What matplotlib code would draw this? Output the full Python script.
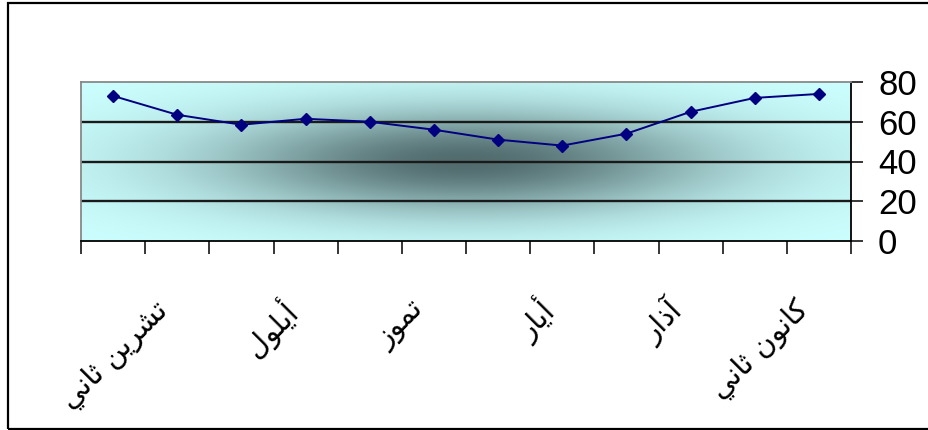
import numpy as np
import matplotlib
matplotlib.use('Agg')
import matplotlib.pyplot as plt
import matplotlib.transforms as mtransforms
from matplotlib.patches import Rectangle

# months in calendar order (Levantine names); the chart runs right-to-left
months = ['كانون ثاني', 'شباط', 'آذار', 'نيسان', 'أيار', 'حزيران',
          'تموز', 'آب', 'أيلول', 'تشرين أول', 'تشرين ثاني', 'كانون أول']
values = [74, 72, 65, 54, 48, 51, 56, 60, 61.5, 58.5, 63.5, 73]
y_ticks = [0, 20, 40, 60, 80]

# presentation forms: (isolated, final, initial, medial); 2-tuples don't join forward
FORMS = {
    'ا': ('\uFE8D', '\uFE8E'), 'آ': ('\uFE81', '\uFE82'), 'أ': ('\uFE83', '\uFE84'),
    'ب': ('\uFE8F', '\uFE90', '\uFE91', '\uFE92'), 'ت': ('\uFE95', '\uFE96', '\uFE97', '\uFE98'),
    'ث': ('\uFE99', '\uFE9A', '\uFE9B', '\uFE9C'), 'ح': ('\uFEA1', '\uFEA2', '\uFEA3', '\uFEA4'),
    'ذ': ('\uFEAB', '\uFEAC'), 'ر': ('\uFEAD', '\uFEAE'), 'ز': ('\uFEAF', '\uFEB0'),
    'س': ('\uFEB1', '\uFEB2', '\uFEB3', '\uFEB4'), 'ش': ('\uFEB5', '\uFEB6', '\uFEB7', '\uFEB8'),
    'ط': ('\uFEC1', '\uFEC2', '\uFEC3', '\uFEC4'), 'ك': ('\uFED9', '\uFEDA', '\uFEDB', '\uFEDC'),
    'ل': ('\uFEDD', '\uFEDE', '\uFEDF', '\uFEE0'), 'م': ('\uFEE1', '\uFEE2', '\uFEE3', '\uFEE4'),
    'ن': ('\uFEE5', '\uFEE6', '\uFEE7', '\uFEE8'), 'و': ('\uFEED', '\uFEEE'),
    'ي': ('\uFEF1', '\uFEF2', '\uFEF3', '\uFEF4'),
}


def shape(word):
    # matplotlib has no arabic shaping/bidi, so do it by hand
    out = []
    for i, c in enumerate(word):
        if c not in FORMS:
            out.append(c)
            continue
        prev = word[i - 1] if i > 0 else None
        nxt = word[i + 1] if i + 1 < len(word) else None
        join_prev = prev in FORMS and len(FORMS[prev]) == 4
        join_next = nxt in FORMS and len(FORMS[c]) == 4
        f = FORMS[c]
        if join_prev and join_next:
            out.append(f[3])
        elif join_prev:
            out.append(f[1])
        elif join_next:
            out.append(f[2])
        else:
            out.append(f[0])
    return ''.join(reversed(out))


W, H = 929, 430
fig = plt.figure(figsize=(W / 100, H / 100), dpi=100)
ax = fig.add_axes([81 / W, (H - 241) / H, (851 - 81) / W, (241 - 82) / H])

# "from center" gradient fill of the plot area
gx = np.linspace(0, 1, 770)
gy = np.linspace(1, 0, 160)
X, Y = np.meshgrid(gx, gy)
d2 = ((X - 0.5) / 0.33) ** 2 + ((Y - 0.5) / 0.33) ** 2
w = np.exp(-d2)
light = np.array([204, 255, 255]) / 255
dark = np.array([82, 108, 110]) / 255
grad = light[None, None, :] * (1 - w[..., None]) + dark[None, None, :] * w[..., None]
ax.imshow(grad, extent=(0, 1, 0, 1), transform=ax.transAxes, aspect='auto',
          zorder=0, interpolation='bilinear')

x = np.arange(len(values))
ax.plot(x, values, color='#000080', lw=1.4, marker='D', markersize=6.5,
        markeredgecolor='#000080', markerfacecolor='#000080', zorder=3)

ax.set_xlim(len(values) - 0.5, -0.5)
ax.set_ylim(0, 80)

for yv in y_ticks[1:-1]:
    ax.axhline(yv, color='#1a1a1a', lw=1.7, zorder=1)

ax.yaxis.tick_right()
ax.set_yticks(y_ticks)
ax.tick_params(axis='y', direction='out', length=8.5, width=1.1, pad=11,
               labelsize=25, colors='black')
for lab in ax.get_yticklabels():
    lab.set_family('Liberation Sans')

ax.set_xticks(np.arange(-0.5, len(values), 1))
ax.set_xticklabels([])
ax.tick_params(axis='x', direction='out', length=9.5, width=1.1)

ax.spines['left'].set_color('#888888')
ax.spines['top'].set_color('#888888')
ax.spines['left'].set_linewidth(1.3)
ax.spines['top'].set_linewidth(1.3)
ax.spines['bottom'].set_linewidth(1.3)
ax.spines['right'].set_linewidth(1.3)

# every other month label, rotated 45 degrees
trans = mtransforms.blended_transform_factory(ax.transData, ax.transAxes)
trans = mtransforms.offset_copy(trans, fig=fig, x=-14, y=-65, units='dots')
for i in range(0, len(months), 2):
    ax.text(i, 0, shape(months[i]), transform=trans, rotation=45,
            rotation_mode='anchor', ha='right', va='center',
            fontsize=21, family=['DejaVu Sans'])

# outer chart border
fig.patches.append(Rectangle((8 / W, 1.5 / H), 1.0, (H - 4.5) / H, transform=fig.transFigure,
                             fill=False, edgecolor='black', lw=1.6))

fig.savefig('out.png', dpi=100)
